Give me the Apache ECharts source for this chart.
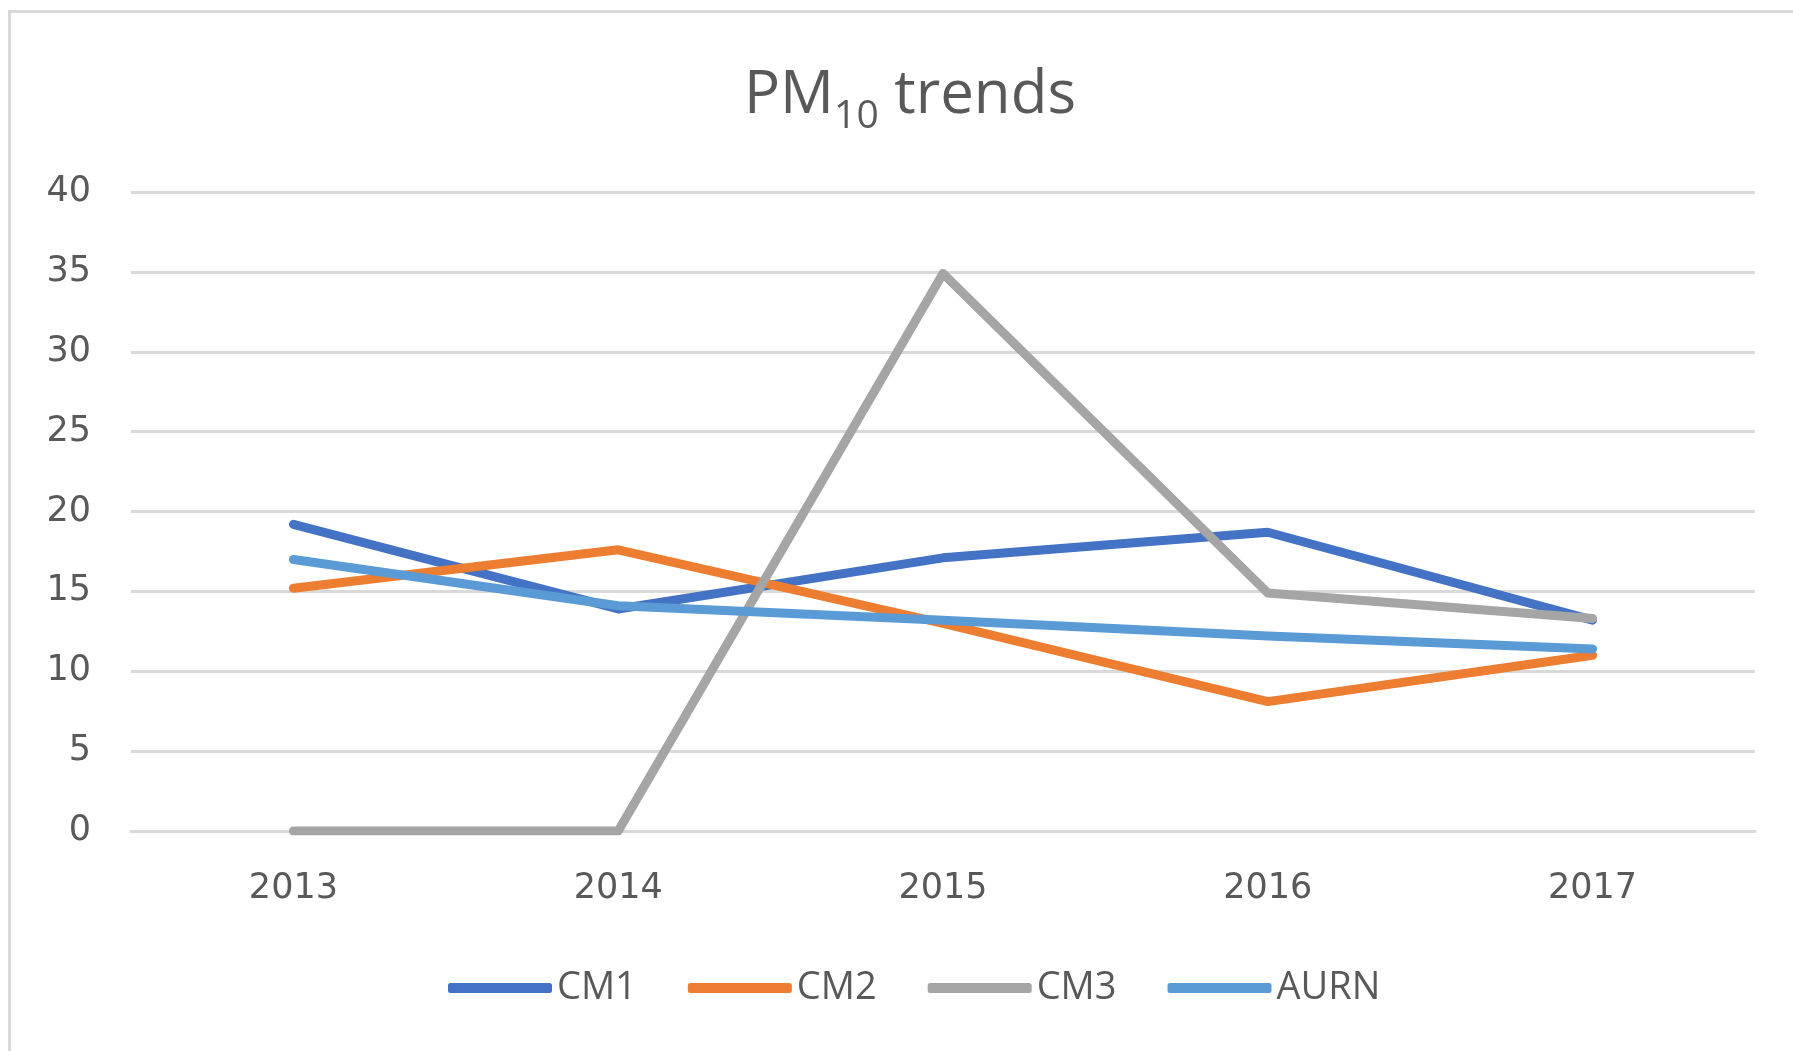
<!DOCTYPE html>
<html>
<head>
<meta charset="utf-8">
<script src="https://cdn.jsdelivr.net/npm/echarts@6/dist/echarts.min.js"></script>
<style>
  html, body { margin: 0; padding: 0; background: #fff; }
  #frame {
    position: absolute; left: 8px; top: 10px; right: 0; bottom: 0;
    border-top: 3px solid #d9d9d9; border-left: 3px solid #d9d9d9;
  }
  #chart { position: absolute; left: 0; top: 0; width: 1793px; height: 1051px; }
</style>
</head>
<body>
<div id="frame"></div>
<div id="chart"></div>
<script>
const years = ['2013', '2014', '2015', '2016', '2017'];
const cm1 = [19.2, 13.9, 17.1, 18.7, 13.2];
const cm2 = [15.2, 17.6, 13.0, 8.1, 11.0];
const cm3 = [0, 0, 34.9, 14.9, 13.3];
const aurn = [17.0, 14.1, 13.2, 12.2, 11.4];
const yTicks = [0, 5, 10, 15, 20, 25, 30, 35, 40];

const font = '"Open Sans", "Noto Sans", sans-serif';
const numFont = '"DejaVu Sans", "Open Sans", sans-serif';
const textColor = '#595959';

function line(name, data, color) {
  return {
    name: name,
    type: 'line',
    data: data,
    symbol: 'none',
    lineStyle: { width: 9, color: color, cap: 'round', join: 'round' },
    itemStyle: { color: color }
  };
}

const chart = echarts.init(document.getElementById('chart'), null, { renderer: 'canvas' });
chart.setOption({
  backgroundColor: 'transparent',
  animation: false,
  title: {
    text: '{a|PM}{sub|10}{a| trends}',
    left: 905,
    top: 51,
    textAlign: 'center',
    textStyle: {
      fontWeight: 'normal',
      rich: {
        a: { fontFamily: font, fontSize: 60, fontWeight: 'normal', color: textColor, lineHeight: 80, verticalAlign: 'middle' },
        sub: { fontFamily: font, fontSize: 39, fontWeight: 'normal', color: textColor, lineHeight: 80, verticalAlign: 'bottom' }
      }
    }
  },
  grid: { left: 131, right: 38, top: 192, bottom: 220 },
  legend: {
    data: ['CM1', 'CM2', 'CM3', 'AURN'],
    left: 443,
    top: 964,
    icon: 'roundRect',
    itemWidth: 104,
    itemHeight: 10,
    itemGap: 51,
    textStyle: { fontFamily: font, fontSize: 38, color: textColor }
  },
  xAxis: {
    type: 'category',
    data: years,
    boundaryGap: true,
    axisLine: { show: true, lineStyle: { color: '#d9d9d9', width: 3 } },
    axisTick: { show: false },
    axisLabel: { fontFamily: numFont, fontSize: 35, color: textColor, margin: 40 }
  },
  yAxis: {
    type: 'value',
    min: yTicks[0],
    max: yTicks[yTicks.length - 1],
    interval: 5,
    axisLine: { show: false },
    axisTick: { show: false },
    axisLabel: { fontFamily: numFont, fontSize: 35, color: textColor, margin: 40, padding: [6, 0, 0, 0] },
    splitLine: { lineStyle: { color: '#d9d9d9', width: 3 } }
  },
  series: [
    line('CM1', cm1, '#4472c4'),
    line('CM2', cm2, '#ed7d31'),
    line('CM3', cm3, '#a5a5a5'),
    line('AURN', aurn, '#5b9bd5')
  ]
});
</script>
</body>
</html>
